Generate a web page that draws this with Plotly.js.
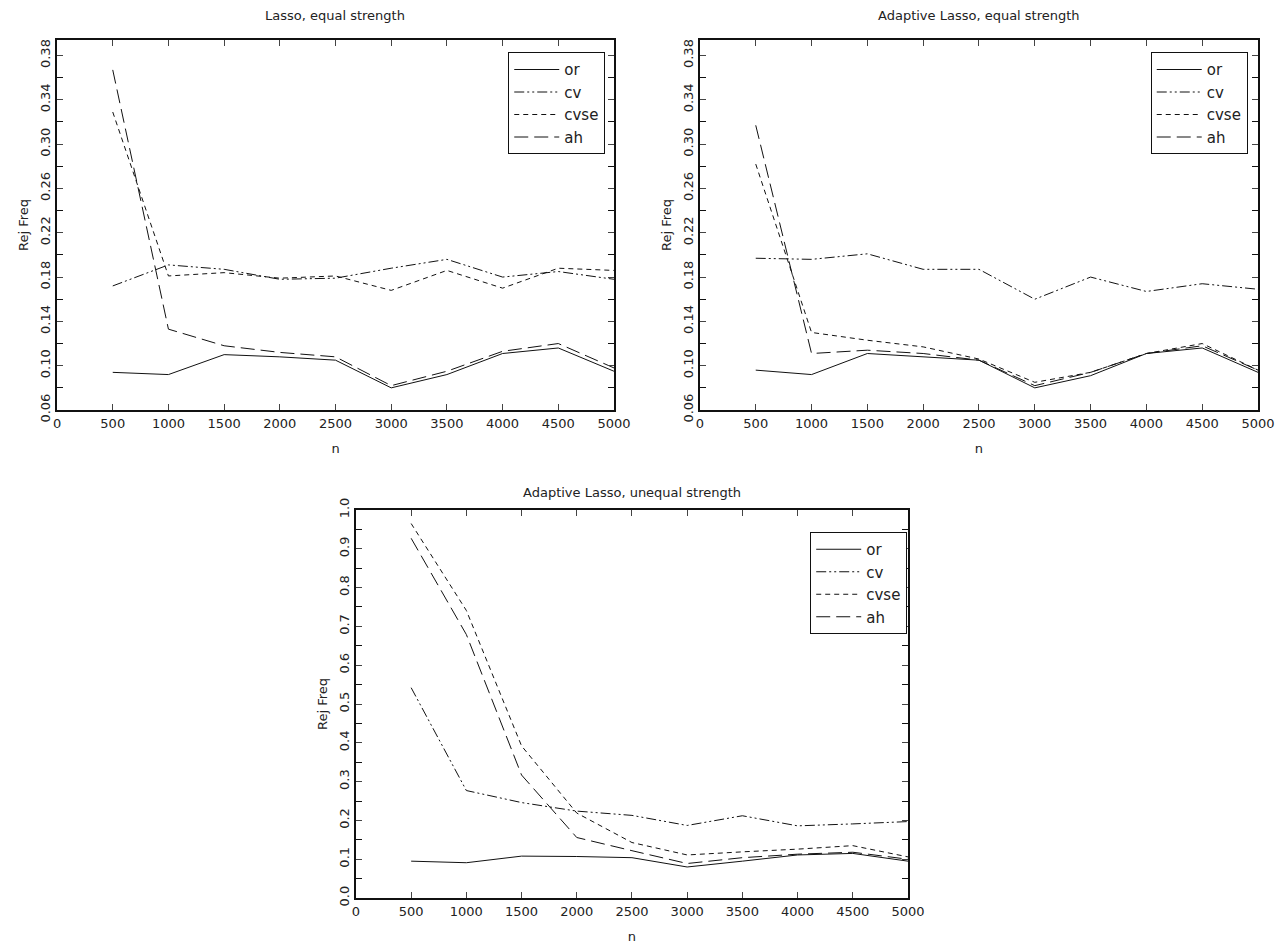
<!DOCTYPE html>
<html lang="en">
  <head>
    <meta charset="utf-8">
    <script src="https://cdn.plot.ly/plotly-3.0.1.min.js" charset="utf-8"></script>
  </head>
  <body style="margin:0">
    <div id="plot" style="width:1285px;height:950px"></div>
    <script type="text/javascript">
      const n = [500,1000,1500,2000,2500,3000,3500,4000,4500,5000];

      // Lasso, equal strength
      const lassoOr   = [0.094,0.092,0.110,0.108,0.105,0.080,0.092,0.111,0.116,0.095];
      const lassoCv   = [0.172,0.191,0.187,0.178,0.179,0.188,0.196,0.180,0.185,0.178];
      const lassoCvse = [0.329,0.181,0.184,0.179,0.181,0.168,0.186,0.170,0.188,0.186];
      const lassoAh   = [0.367,0.133,0.118,0.112,0.108,0.082,0.095,0.113,0.120,0.098];

      // Adaptive Lasso, equal strength
      const adaOr   = [0.096,0.092,0.111,0.108,0.105,0.080,0.091,0.111,0.116,0.094];
      const adaCv   = [0.197,0.196,0.201,0.187,0.187,0.160,0.180,0.167,0.174,0.169];
      const adaCvse = [0.282,0.130,0.123,0.117,0.106,0.085,0.094,0.111,0.120,0.096];
      const adaAh   = [0.317,0.111,0.114,0.111,0.105,0.082,0.094,0.111,0.118,0.096];

      // Adaptive Lasso, unequal strength
      const uneqOr   = [0.095,0.091,0.108,0.107,0.104,0.080,0.095,0.111,0.115,0.095];
      const uneqCv   = [0.542,0.277,0.246,0.224,0.213,0.187,0.212,0.186,0.191,0.197];
      const uneqCvse = [0.965,0.741,0.392,0.219,0.143,0.111,0.119,0.126,0.135,0.106];
      const uneqAh   = [0.927,0.679,0.317,0.156,0.122,0.089,0.104,0.113,0.118,0.100];

      const names = ['or','cv','cvse','ah'];
      const dashes = ['solid','10px,3px,2px,3px,2px,3px','5px,4px','14px,6px'];
      const FONT = {family:'DejaVu Sans', size:13, color:'#222'};

      let traces = [];
      function addSet(series, k) {
        series.forEach((ys, i) => {
          traces.push({
            x:n, y:ys, name:names[i], type:'scatter', mode:'lines',
            xaxis: k==1 ? 'x' : 'x'+k, yaxis: k==1 ? 'y' : 'y'+k,
            legend: k==1 ? 'legend' : 'legend'+k,
            line:{color:'#111', width:1, dash:dashes[i]}
          });
        });
      }
      addSet([lassoOr,lassoCv,lassoCvse,lassoAh], 1);
      addSet([adaOr,adaCv,adaCvse,adaAh], 2);
      addSet([uneqOr,uneqCv,uneqCvse,uneqAh], 3);

      function xax(domain, anchor) {
        return {
          domain:domain, anchor:anchor, range:[0,5000], dtick:500, tick0:0,
          ticks:'inside', ticklen:6, mirror:'ticks', showline:true, linewidth:2, linecolor:'#111',
          showgrid:false, zeroline:false, tickfont:FONT,
          title:{text:'n', font:FONT, standoff:14}
        };
      }
      function yax(domain, anchor, range, tick0, dtick, minor) {
        return {
          domain:domain, anchor:anchor, range:range, dtick:dtick, tick0:tick0,
          tickformat: dtick < 0.1 ? '.2f' : '.1f',
          ticks:'inside', ticklen:6, mirror:'ticks', showline:true, linewidth:2, linecolor:'#111',
          minor:{dtick:minor, tick0:tick0, ticks:'inside', ticklen:6, tickcolor:'#111'},
          showgrid:false, zeroline:false, tickfont:FONT, tickangle:-90,
          title:{text:'Rej Freq', font:FONT, standoff:6}
        };
      }
      function leg(x, y) {
        return {x:x, y:y, xanchor:'right', yanchor:'top', bordercolor:'#111', borderwidth:1,
                bgcolor:'white', font:{family:'DejaVu Sans', size:15, color:'#222'},
                itemwidth:45, tracegroupgap:0};
      }
      function ttl(text, x, y) {
        return {text:text, x:x, y:y, xref:'paper', yref:'paper', showarrow:false,
                font:FONT, xanchor:'center', yanchor:'bottom'};
      }

      const layout = {
        width:1285, height:950, showlegend:true,
        margin:{l:0,r:0,t:0,b:0},
        paper_bgcolor:'white', plot_bgcolor:'white',
        font:FONT,
        xaxis: xax([0.0444,0.4778],'y'),
        yaxis: yax([0.5684,0.9579],'x',[0.06,0.394],0.06,0.04,0.02),
        xaxis2: xax([0.5447,0.979],'y2'),
        yaxis2: yax([0.5684,0.9579],'x2',[0.06,0.394],0.06,0.04,0.02),
        xaxis3: xax([0.277,0.7066],'y3'),
        yaxis3: yax([0.0547,0.4632],'x3',[0,1.0],0,0.1,0.05),
        legend: leg(0.471,0.945),
        legend2: leg(0.971,0.945),
        legend3: leg(0.706,0.44),
        annotations:[
          ttl('Lasso, equal strength',0.261,0.974),
          ttl('Adaptive Lasso, equal strength',0.762,0.974),
          ttl('Adaptive Lasso, unequal strength',0.492,0.472)
        ]
      };
      Plotly.newPlot(document.getElementById('plot'), traces, layout, {displayModeBar:false});
    </script>
  </body>
</html>
